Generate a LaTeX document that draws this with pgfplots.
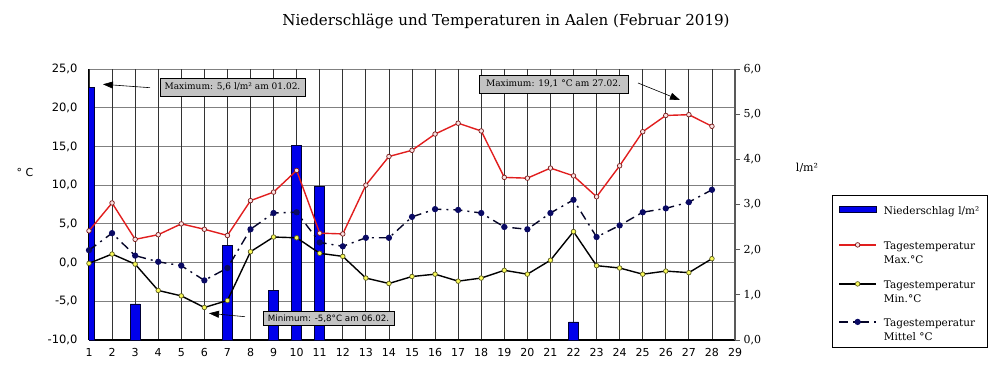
\documentclass[border=0pt]{standalone}
\usepackage{pgfplots}
\usepackage{pgfplotstable}
\pgfplotsset{compat=1.18}
\usepackage{fontspec}
\setmainfont{DejaVu Serif}
\newfontfamily\sansf{DejaVu Sans}
\usetikzlibrary{arrows.meta}

\definecolor{barblue}{RGB}{0,0,235}
\definecolor{maxred}{RGB}{225,30,30}
\definecolor{maxedge}{RGB}{120,25,25}
\definecolor{maxfill}{RGB}{250,225,225}
\definecolor{minfill}{RGB}{250,250,90}
\definecolor{minedge}{RGB}{90,90,30}
\definecolor{meanblue}{RGB}{10,10,100}
\definecolor{meanline}{RGB}{5,5,40}
\definecolor{boxgray}{RGB}{195,195,195}

\pgfplotstableread{
day tmax tmin tmean
1 4.1 -0.1 1.6
2 7.7 1.1 3.8
3 3.0 -0.2 0.9
4 3.6 -3.6 0.1
5 5.0 -4.3 -0.4
6 4.3 -5.8 -2.3
7 3.5 -4.9 -0.7
8 8.0 1.4 4.3
9 9.1 3.3 6.4
10 11.9 3.2 6.5
11 3.8 1.2 2.6
12 3.7 0.8 2.1
13 10.0 -2.0 3.2
14 13.7 -2.7 3.2
15 14.5 -1.8 5.9
16 16.6 -1.5 6.9
17 18.0 -2.4 6.8
18 17.0 -2.0 6.4
19 11.0 -1.0 4.6
20 10.9 -1.5 4.3
21 12.2 0.3 6.4
22 11.2 4.0 8.1
23 8.5 -0.4 3.3
24 12.5 -0.7 4.8
25 16.9 -1.5 6.5
26 19.0 -1.1 7.0
27 19.1 -1.3 7.8
28 17.6 0.5 9.4
}\temps

\pgfplotstableread{
day rain
1 5.6
3 0.8
7 2.1
9 1.1
10 4.3
11 3.4
22 0.4
}\rain

\pgfplotsset{
  base/.style={scale only axis, width=646pt, height=271pt,
    at={(89pt,46pt)}, anchor=south west, xmin=1, xmax=29,
    /pgf/number format/assume math mode=true},
  onedec/.style={/pgf/number format/fixed, /pgf/number format/fixed zerofill,
    /pgf/number format/precision=1, /pgf/number format/use comma}
}
% strut: depth #1, height #2
\newcommand{\st}[2]{\rule[-#1]{0pt}{\dimexpr#1+#2\relax}}

\begin{document}
\begin{tikzpicture}
\path[use as bounding box] (0,0) rectangle (1000pt,386pt);

% Axis 1: temperature scale with horizontal grid
\begin{axis}[base,
  ymin=-10, ymax=25, ytick={-10,-5,...,25},
  axis x line=none, axis y line*=left,
  y axis line style={black, line width=1.5pt, -},
  ymajorgrids, major grid style={black!50, line width=0.8pt},
  ytick style={draw=none},
  yticklabel style={onedec, font=\sansf\fontsize{11.5}{13}\selectfont, xshift=-8pt},
]
\end{axis}

% Axis 2: precipitation bars with vertical grid
\begin{axis}[base,
  ymin=0, ymax=6, ytick={0,1,...,6},
  xtick={1,...,29},
  axis x line*=bottom, axis y line*=right,
  x axis line style={black, line width=1.3pt, -},
  y axis line style={black!65, line width=1.6pt, -},
  xmajorgrids, major grid style={black!80, line width=0.8pt},
  xtick style={draw=none},
  ytick style={black!65, line width=0.8pt},
  tick align=outside, major tick length=5pt,
  xticklabel style={font=\sansf\fontsize{11}{13}\selectfont},
  yticklabel style={onedec, font=\fontsize{11}{13}\selectfont},
]
\addplot[ybar, bar width=10pt, fill=barblue, draw=black!80!blue, line width=0.6pt]
  table[x=day, y=rain] {\rain};
\end{axis}

% Axis 3: temperature lines and legend
\begin{axis}[base,
  ymin=-10, ymax=25, hide axis, clip=false,
  legend style={at={(axis description cs:1.1502,0.5351)}, anchor=north west,
    draw=black, line width=0.8pt, inner xsep=6pt, inner ysep=6pt,
    font=\fontsize{10.5}{12}\selectfont, row sep=0pt,
    nodes={inner ysep=0pt, text height=, text depth=},
    /tikz/every odd column/.append style={column sep=5pt}},
  legend cell align=left,
  legend image code/.code={\draw[mark repeat=2, mark phase=2, #1]
    plot coordinates {(0pt,0pt) (18.5pt,0pt) (37pt,0pt)};},
]
\addlegendimage{legend image code/.code={\draw[fill=barblue, draw=black!80!blue, line width=0.6pt] (0pt,-2.5pt) rectangle (37pt,3.5pt);}}
\addlegendentry{Niederschlag l/m²\st{3pt}{13pt}}
\addlegendimage{empty legend}
\addlegendentry{\st{10pt}{10pt}}

\addplot[maxred, line width=1.4pt, mark=*, mark size=2.3pt,
  mark options={fill=maxfill, draw=maxedge, line width=0.7pt, solid}]
  table[x=day, y=tmax] {\temps};
\addlegendentry{Tagestemperatur\st{3pt}{12pt}}
\addlegendimage{empty legend}
\addlegendentry{Max.°C\st{13pt}{11pt}}

\addplot[black, line width=1.4pt, mark=*, mark size=2.3pt,
  mark options={fill=minfill, draw=minedge, line width=0.7pt, solid}]
  table[x=day, y=tmin] {\temps};
\addlegendentry{Tagestemperatur\st{3pt}{12pt}}
\addlegendimage{empty legend}
\addlegendentry{Min.°C\st{12pt}{11pt}}

\addplot[meanline, line width=1.4pt, dash pattern=on 9pt off 5pt on 2pt off 5pt,
  mark=*, mark size=2.4pt, mark options={fill=meanblue, draw=meanblue, solid}]
  table[x=day, y=tmean] {\temps};
\addlegendentry{Tagestemperatur\st{3pt}{12pt}}
\addlegendimage{empty legend}
\addlegendentry{Mittel °C\st{1pt}{11pt}}
\end{axis}

% Title and axis labels
\node[font=\fontsize{15.1}{18}\selectfont] at (506pt,365pt) {Niederschläge und Temperaturen in Aalen (Februar 2019)};
\node[font=\sansf\fontsize{11}{13}\selectfont] at (25pt,214pt) {° C};
\node[font=\fontsize{11}{13}\selectfont] at (807pt,218pt) {l/m²};

% Annotations
\node[draw=black, fill=boxgray, line width=0.6pt, minimum width=145pt, minimum height=18pt, inner sep=1pt,
  font=\fontsize{9}{10}\selectfont] at (232.5pt,299pt) {Maximum: 5,6 l/m² am 01.02.};
\draw[line width=0.6pt, -{Triangle[length=10pt, width=7pt]}] (150pt,298.3pt) -- (103pt,301.7pt);

\node[draw=black, fill=boxgray, line width=0.6pt, minimum width=149pt, minimum height=18pt, inner sep=1pt,
  font=\fontsize{9}{10}\selectfont] at (553.5pt,302pt) {Maximum: 19,1 °C am 27.02.};
\draw[line width=0.6pt, -{Triangle[length=10pt, width=7pt]}] (638pt,303pt) -- (680pt,286pt);

\node[draw=black, fill=boxgray, line width=0.6pt, minimum width=131pt, minimum height=13.5pt, inner sep=1pt,
  font=\sansf\fontsize{8.7}{10}\selectfont] at (328.5pt,67.5pt) {Minimum: -5,8°C am 06.02.};
\draw[line width=0.6pt, -{Triangle[length=10pt, width=7pt]}] (245pt,69.3pt) -- (209pt,72.7pt);
\end{tikzpicture}
\end{document}
